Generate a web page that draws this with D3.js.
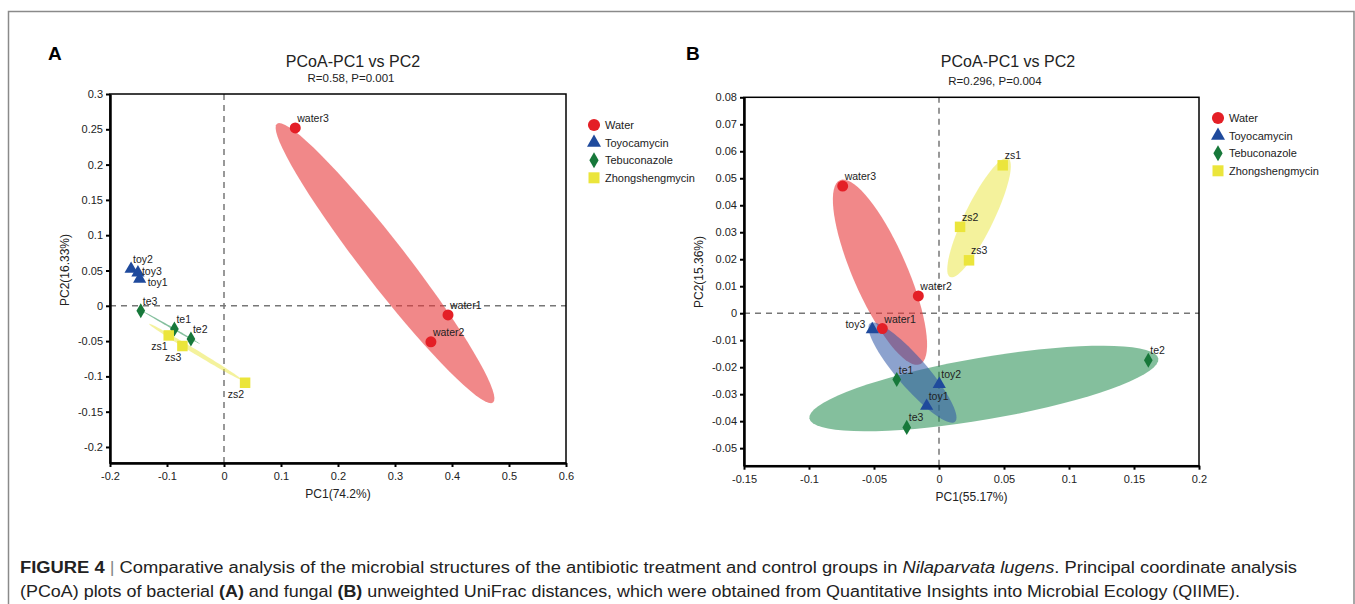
<!DOCTYPE html>
<html>
<head>
<meta charset="utf-8">
<script src="https://cdn.jsdelivr.net/npm/d3@7"></script>
<style>
  body { margin: 0; background: #fff; }
  svg text { font-family: "Liberation Sans", Arial, sans-serif; fill: #222; }
</style>
</head>
<body>
<svg id="fig" width="1355" height="604"></svg>
<script>

// groups and samples
var groups = ["Water", "Toyocamycin", "Tebuconazole", "Zhongshengmycin"];
var samples = ["water1", "water2", "water3", "toy1", "toy2", "toy3", "te1", "te2", "te3", "zs1", "zs2", "zs3"];
var sampleGroup = [0, 0, 0, 1, 1, 1, 2, 2, 2, 3, 3, 3];

// panel A - bacteria
var pc1A = [0.393, 0.363, 0.125, -0.148, -0.163, -0.151, -0.087, -0.058, -0.146, -0.097, 0.037, -0.073];
var pc2A = [-0.013, -0.051, 0.252, 0.038, 0.052, 0.047, -0.033, -0.047, -0.007, -0.042, -0.109, -0.057];

// panel B - fungi
var pc1B = [-0.0436, -0.0159, -0.0741, -0.0095, 0.0002, -0.0513, -0.0325, 0.161, -0.0248, 0.049, 0.0162, 0.0231];
var pc2B = [-0.0057, 0.0064, 0.0471, -0.0344, -0.0263, -0.0060, -0.0246, -0.0174, -0.0423, 0.0548, 0.032, 0.0196];

// confidence ellipses per group: centre, half major axis, half minor axis (data units)
var ellCenterA = [[0.2825, 0.0605], null, [-0.092, -0.031], [-0.0503, -0.06515]];
var ellMajorA  = [[0.1895, -0.1975], null, [0.05, -0.023], [0.0813, -0.03965]];
var ellMinorA  = [[0.0305, 0.0191], null, [0.0007, 0.001], [0.002, 0.0027]];

var ellCenterB = [[-0.0454, 0.0152], [-0.0204, -0.022], [0.0345, -0.0279], [0.0308, 0.0354]];
var ellMajorB  = [[0.0308, -0.0341], [0.0327, -0.0182], [0.1342, 0.0111], [0.0223, 0.022]];
var ellMinorB  = [[0.0191, 0.004], [0.00877, 0.00363], [0.004, -0.01133], [0.01003, -0.00235]];

// ticks
var xTicksA = [-0.2, -0.1, 0, 0.1, 0.2, 0.3, 0.4, 0.5, 0.6];
var yTicksA = [-0.2, -0.15, -0.1, -0.05, 0, 0.05, 0.1, 0.15, 0.2, 0.25, 0.3];
var xTicksB = [-0.15, -0.1, -0.05, 0, 0.05, 0.1, 0.15, 0.2];
var yTicksB = [-0.05, -0.04, -0.03, -0.02, -0.01, 0, 0.01, 0.02, 0.03, 0.04, 0.05, 0.06, 0.07, 0.08];

var markColor = ["#e41f26", "#1f4a9c", "#17783a", "#ebe53b"];
var ellColor = ["#e8393b", "#2d55a5", "#1f8a4c", "#eae53a"];
var ellOpacity = [0.6, 0.55, 0.55, 0.5];
var symbols = [d3.symbolCircle, d3.symbolTriangle, d3.symbolDiamond, d3.symbolSquare];
var symSize = [95, 75, 65, 110];
var legSize = [115, 85, 74, 121];

var fig = d3.select("#fig");

// outer frame of the figure
fig.append("rect")
  .attr("x", 8.5).attr("y", 11.5)
  .attr("width", 1345.5).attr("height", 640)
  .attr("fill", "none")
  .attr("stroke", "#8a8a8a")
  .attr("stroke-width", 1.5);

function fmt(d) { return String(+d.toFixed(3)); }

// label placement around the marker
function labelOffset(spot) {
  if (spot === "bl") return { dx: -1, dy: 15, anchor: "end" };
  if (spot === "r") return { dx: 4, dy: 2, anchor: "start" };
  if (spot === "rb") return { dx: 8, dy: 7, anchor: "start" };
  if (spot === "l") return { dx: -7, dy: -1, anchor: "end" };
  return { dx: 2, dy: -6, anchor: "start" };
}

function drawPanel(p) {
  var x = d3.scaleLinear().domain(p.xDomain).range(p.xRange);
  var y = d3.scaleLinear().domain(p.yDomain).range(p.yRange);
  var g = fig.append("g");

  // panel letter
  g.append("text").text(p.letter)
    .attr("x", p.letterX).attr("y", 60)
    .style("font-size", "19px").style("font-weight", "bold").style("fill", "#000");

  // titles
  g.append("text").text("PCoA-PC1 vs PC2")
    .attr("x", p.titleX).attr("y", 67)
    .attr("text-anchor", "middle")
    .style("font-size", "16px");
  g.append("text").text(p.subtitle)
    .attr("x", p.subX).attr("y", p.subY)
    .attr("text-anchor", "middle")
    .style("font-size", "11.5px");

  // zero lines
  g.append("line")
    .attr("x1", x(0)).attr("x2", x(0))
    .attr("y1", p.yRange[0]).attr("y2", p.yRange[1])
    .attr("stroke", "#777").attr("stroke-width", 1.5).attr("stroke-dasharray", "6,5");
  g.append("line")
    .attr("x1", p.xRange[0]).attr("x2", p.xRange[1])
    .attr("y1", y(0)).attr("y2", y(0))
    .attr("stroke", "#777").attr("stroke-width", 1.5).attr("stroke-dasharray", "6,5");

  // ellipses
  var angles = d3.range(0, 72).map(function (i) { return i * 2 * Math.PI / 72; });
  var ell = d3.line().curve(d3.curveLinearClosed);
  p.order.forEach(function (k) {
    var c = p.ellCenter[k];
    if (!c) return;
    var a = p.ellMajor[k], b = p.ellMinor[k];
    var pts = angles.map(function (t) {
      return [x(c[0] + a[0] * Math.cos(t) + b[0] * Math.sin(t)),
              y(c[1] + a[1] * Math.cos(t) + b[1] * Math.sin(t))];
    });
    g.append("path")
      .attr("d", ell(pts))
      .attr("fill", ellColor[k])
      .attr("fill-opacity", ellOpacity[k])
      .attr("stroke", "none");
  });

  // frame
  g.append("rect")
    .attr("x", p.xRange[0]).attr("y", p.yRange[1])
    .attr("width", p.xRange[1] - p.xRange[0])
    .attr("height", p.yRange[0] - p.yRange[1])
    .attr("fill", "none").attr("stroke", "#000").attr("stroke-width", 1.5);

  // axes
  var ax = g.append("g")
    .attr("transform", "translate(0," + p.yRange[0] + ")")
    .call(d3.axisBottom(x).tickValues(p.xTicks).tickFormat(fmt).tickSize(4).tickSizeOuter(0));
  var ay = g.append("g")
    .attr("transform", "translate(" + p.xRange[0] + ",0)")
    .call(d3.axisLeft(y).tickValues(p.yTicks).tickFormat(fmt).tickSize(4).tickSizeOuter(0));
  [ax, ay].forEach(function (a) {
    a.select(".domain").attr("stroke", "#000").attr("stroke-width", 2.5);
    a.selectAll(".tick line").attr("stroke", "#000").attr("stroke-width", 2);
    a.selectAll(".tick text")
      .style("font-size", "11px")
      .style("font-family", "'Liberation Sans', Arial, sans-serif")
      .attr("fill", "#222");
  });
  ax.selectAll(".tick text").attr("dy", "0.95em");

  // axis titles
  g.append("text").text(p.xLabel)
    .attr("x", (p.xRange[0] + p.xRange[1]) / 2).attr("y", p.yRange[0] + 35)
    .attr("text-anchor", "middle")
    .style("font-size", "12px");
  g.append("text").text(p.yLabel)
    .attr("transform", "rotate(-90)")
    .attr("x", -p.yLabelY).attr("y", p.yLabelX)
    .attr("text-anchor", "middle")
    .style("font-size", "12px");

  // markers
  g.selectAll(".pt")
    .data(samples)
    .enter()
    .append("path")
    .attr("class", "pt")
    .attr("d", function (d, i) { return d3.symbol().type(symbols[sampleGroup[i]]).size(symSize[sampleGroup[i]])(); })
    .attr("transform", function (d, i) { return "translate(" + x(p.pc1[i]) + "," + y(p.pc2[i]) + ")"; })
    .attr("fill", function (d, i) { return markColor[sampleGroup[i]]; });

  // sample labels
  g.selectAll(".lab")
    .data(samples)
    .enter()
    .append("text")
    .attr("class", "lab")
    .text(function (d) { return d; })
    .each(function (d, i) {
      var o = labelOffset(p.spots[d]);
      d3.select(this)
        .attr("x", x(p.pc1[i]) + o.dx)
        .attr("y", y(p.pc2[i]) + o.dy)
        .attr("text-anchor", o.anchor);
    })
    .style("font-size", "10.5px");

  // legend
  var leg = g.append("g").attr("transform", "translate(" + p.legX + "," + p.legY + ")");
  groups.forEach(function (name, i) {
    leg.append("path")
      .attr("d", d3.symbol().type(symbols[i]).size(legSize[i])())
      .attr("transform", "translate(0," + (i * 17.6) + ")")
      .attr("fill", markColor[i]);
    leg.append("text").text(name)
      .attr("x", 11).attr("y", i * 17.6 + 4)
      .style("font-size", "11px");
  });
}

// PANEL A
drawPanel({
  letter: "A", letterX: 48,
  titleX: 353, subX: 351, subY: 82, subtitle: "R=0.58, P=0.001",
  xDomain: [-0.2, 0.6], xRange: [110, 566],
  yDomain: [-0.2227, 0.3], yRange: [463, 94],
  xTicks: xTicksA, yTicks: yTicksA,
  xLabel: "PC1(74.2%)", yLabel: "PC2(16.33%)", yLabelX: 69, yLabelY: 270,
  pc1: pc1A, pc2: pc2A,
  ellCenter: ellCenterA, ellMajor: ellMajorA, ellMinor: ellMinorA,
  order: [0, 1, 2, 3],
  spots: { zs1: "bl", zs2: "bl", zs3: "bl", toy3: "r", toy1: "rb" },
  legX: 594, legY: 125
});

// PANEL B
drawPanel({
  letter: "B", letterX: 686,
  titleX: 1008, subX: 995, subY: 85, subtitle: "R=0.296, P=0.004",
  xDomain: [-0.15, 0.2], xRange: [744, 1199],
  yDomain: [-0.0565, 0.08], yRange: [465.7, 97.3],
  xTicks: xTicksB, yTicks: yTicksB,
  xLabel: "PC1(55.17%)", yLabel: "PC2(15.36%)", yLabelX: 703, yLabelY: 272,
  pc1: pc1B, pc2: pc2B,
  ellCenter: ellCenterB, ellMajor: ellMajorB, ellMinor: ellMinorB,
  order: [2, 0, 1, 3],
  spots: { toy3: "l" },
  legX: 1218, legY: 118
});

// CAPTION
var cap1 = fig.append("text")
  .attr("x", 20).attr("y", 573)
  .attr("textLength", 1277).attr("lengthAdjust", "spacingAndGlyphs")
  .style("font-size", "16px")
  .style("font-family", "'Liberation Sans Narrow', 'Liberation Sans', Arial, sans-serif");
cap1.append("tspan").text("FIGURE 4").style("font-weight", "bold");
cap1.append("tspan").text(" | ").style("fill", "#888");
cap1.append("tspan").text("Comparative analysis of the microbial structures of the antibiotic treatment and control groups in ");
cap1.append("tspan").text("Nilaparvata lugens").style("font-style", "italic");
cap1.append("tspan").text(". Principal coordinate analysis");

var cap2 = fig.append("text")
  .attr("x", 20).attr("y", 597)
  .attr("textLength", 1220).attr("lengthAdjust", "spacingAndGlyphs")
  .style("font-size", "16px")
  .style("font-family", "'Liberation Sans Narrow', 'Liberation Sans', Arial, sans-serif");
cap2.append("tspan").text("(PCoA) plots of bacterial ");
cap2.append("tspan").text("(A)").style("font-weight", "bold");
cap2.append("tspan").text(" and fungal ");
cap2.append("tspan").text("(B)").style("font-weight", "bold");
cap2.append("tspan").text(" unweighted UniFrac distances, which were obtained from Quantitative Insights into Microbial Ecology (QIIME).");

</script>
</body>
</html>
